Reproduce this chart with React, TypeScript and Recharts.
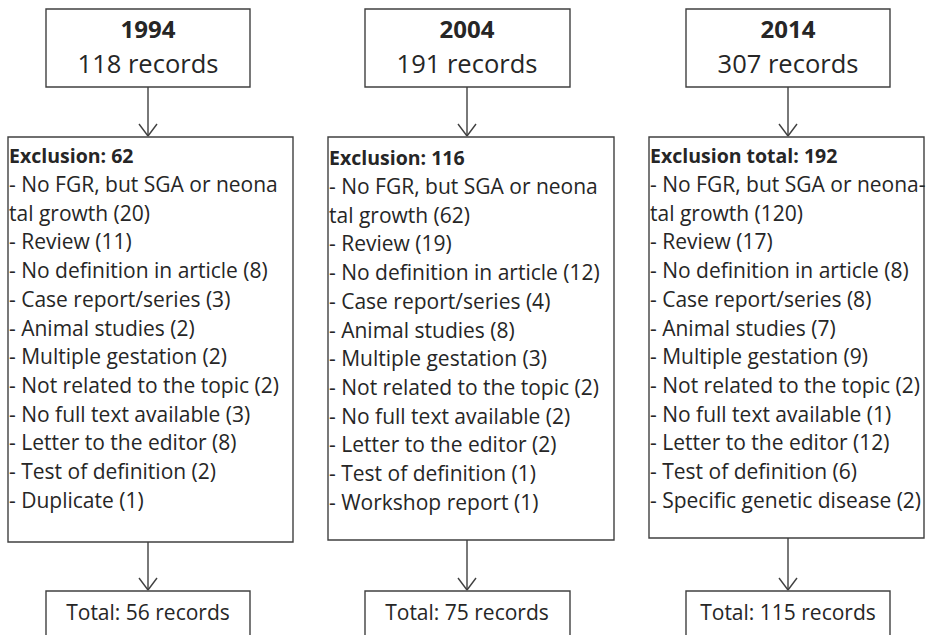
import { ReferenceArea, ReferenceLine, Scatter, ScatterChart, XAxis, YAxis } from "recharts";

// --- data ---
const years = ["1994", "2004", "2014"];
const recordCounts = [118, 191, 307];
const exclusionLabels = ["Exclusion", "Exclusion", "Exclusion total"];
const exclusionCounts = [62, 116, 192];
const totals = [56, 75, 115];

const reasons1994 = [
  "- No FGR, but SGA or neona",
  "tal growth (20)",
  "- Review (11)",
  "- No definition in article (8)",
  "- Case report/series (3)",
  "- Animal studies (2)",
  "- Multiple gestation (2)",
  "- Not related to the topic (2)",
  "- No full text available (3)",
  "- Letter to the editor (8)",
  "- Test of definition (2)",
  "- Duplicate (1)",
];
const reasons2004 = [
  "- No FGR, but SGA or neona",
  "tal growth (62)",
  "- Review (19)",
  "- No definition in article (12)",
  "- Case report/series (4)",
  "- Animal studies (8)",
  "- Multiple gestation (3)",
  "- Not related to the topic (2)",
  "- No full text available (2)",
  "- Letter to the editor (2)",
  "- Test of definition (1)",
  "- Workshop report (1)",
];
const reasons2014 = [
  "- No FGR, but SGA or neona-",
  "tal growth (120)",
  "- Review (17)",
  "- No definition in article (8)",
  "- Case report/series (8)",
  "- Animal studies (7)",
  "- Multiple gestation (9)",
  "- Not related to the topic (2)",
  "- No full text available (1)",
  "- Letter to the editor (12)",
  "- Test of definition (6)",
  "- Specific genetic disease (2)",
];
const reasonLists = [reasons1994, reasons2004, reasons2014];

// --- layout (page pixels) ---
const W = 926;
const H = 635;
const cols = [
  { cx: 148, topL: 46, topR: 250, exL: 8, exR: 293, exB: 542, dy: 0 },
  { cx: 467, topL: 365, topR: 570, exL: 328, exR: 614, exB: 540, dy: 2 },
  { cx: 788, topL: 686, topR: 890, exL: 649, exR: 924, exB: 538, dy: 0 },
];
const topY1 = 9;
const topY2 = 87;
const exY1 = 137;
const totY1 = 591;
const lineStep = 28.7;
const stroke = "#404040";
const ink = "#262626";
const font = "'Open Sans', Lato, sans-serif";

type TextItem = { x: number; y: number; text: string; size: number; bold: boolean; anchor: "start" | "middle" };

const textItems: TextItem[] = [];
cols.forEach((c, i) => {
  textItems.push({ x: c.cx, y: 28, text: years[i], size: 24, bold: true, anchor: "middle" });
  textItems.push({ x: c.cx, y: 63, text: `${recordCounts[i]} records`, size: 25.5, bold: false, anchor: "middle" });
  textItems.push({
    x: c.exL + 1,
    y: 155 + c.dy,
    text: `${exclusionLabels[i]}: ${exclusionCounts[i]}`,
    size: 19.5,
    bold: true,
    anchor: "start",
  });
  reasonLists[i].forEach((line, j) => {
    textItems.push({ x: c.exL + 1, y: 184 + c.dy + j * lineStep, text: line, size: 21, bold: false, anchor: "start" });
  });
  textItems.push({ x: c.cx, y: 612, text: `Total: ${totals[i]} records`, size: 21, bold: false, anchor: "middle" });
});

function TextMark(props: any) {
  const { cx, cy, payload } = props;
  return (
    <text
      x={cx}
      y={cy}
      textAnchor={payload.anchor}
      dominantBaseline="central"
      fontFamily={font}
      fontSize={payload.size}
      fontWeight={payload.bold ? 700 : 400}
      fill={ink}
    >
      {payload.text}
    </text>
  );
}

function arrow(key: string, x: number, y1: number, y2: number) {
  const segs = [
    [{ x, y: y1 }, { x, y: y2 }],
    [{ x: x - 9, y: y2 - 12 }, { x, y: y2 }],
    [{ x: x + 9, y: y2 - 12 }, { x, y: y2 }],
  ];
  return segs.map((s, k) => (
    <ReferenceLine key={`${key}-${k}`} segment={s} stroke={stroke} strokeWidth={1.4} ifOverflow="visible" />
  ));
}

export default function App() {
  return (
    <div style={{ position: "absolute", left: 0, top: 0, width: W, height: H, background: "#fff" }}>
      <ScatterChart width={W} height={H} margin={{ top: 0, right: 0, bottom: 0, left: 0 }}>
        <XAxis type="number" dataKey="x" domain={[0, W]} allowDataOverflow hide />
        <YAxis type="number" dataKey="y" domain={[0, H]} allowDataOverflow reversed hide />
        {cols.map((c, i) => (
          <ReferenceArea
            key={`top-${i}`}
            x1={c.topL}
            x2={c.topR}
            y1={topY1}
            y2={topY2}
            fill="#fff"
            fillOpacity={1}
            stroke={stroke}
            strokeWidth={1.4}
            ifOverflow="visible"
          />
        ))}
        {cols.map((c, i) => (
          <ReferenceArea
            key={`ex-${i}`}
            x1={c.exL}
            x2={c.exR}
            y1={exY1}
            y2={c.exB}
            fill="#fff"
            fillOpacity={1}
            stroke={stroke}
            strokeWidth={1.4}
            ifOverflow="visible"
          />
        ))}
        {cols.map((c, i) => (
          <ReferenceArea
            key={`tot-${i}`}
            x1={c.topL}
            x2={c.topR}
            y1={totY1}
            y2={H + 20}
            fill="#fff"
            fillOpacity={1}
            stroke={stroke}
            strokeWidth={1.4}
            ifOverflow="visible"
          />
        ))}
        {cols.map((c, i) => arrow(`a1-${i}`, c.cx, topY2, exY1 - 1))}
        {cols.map((c, i) => arrow(`a2-${i}`, c.cx, c.exB, totY1 - 1))}
        <Scatter data={textItems} shape={TextMark} isAnimationActive={false} />
      </ScatterChart>
    </div>
  );
}
